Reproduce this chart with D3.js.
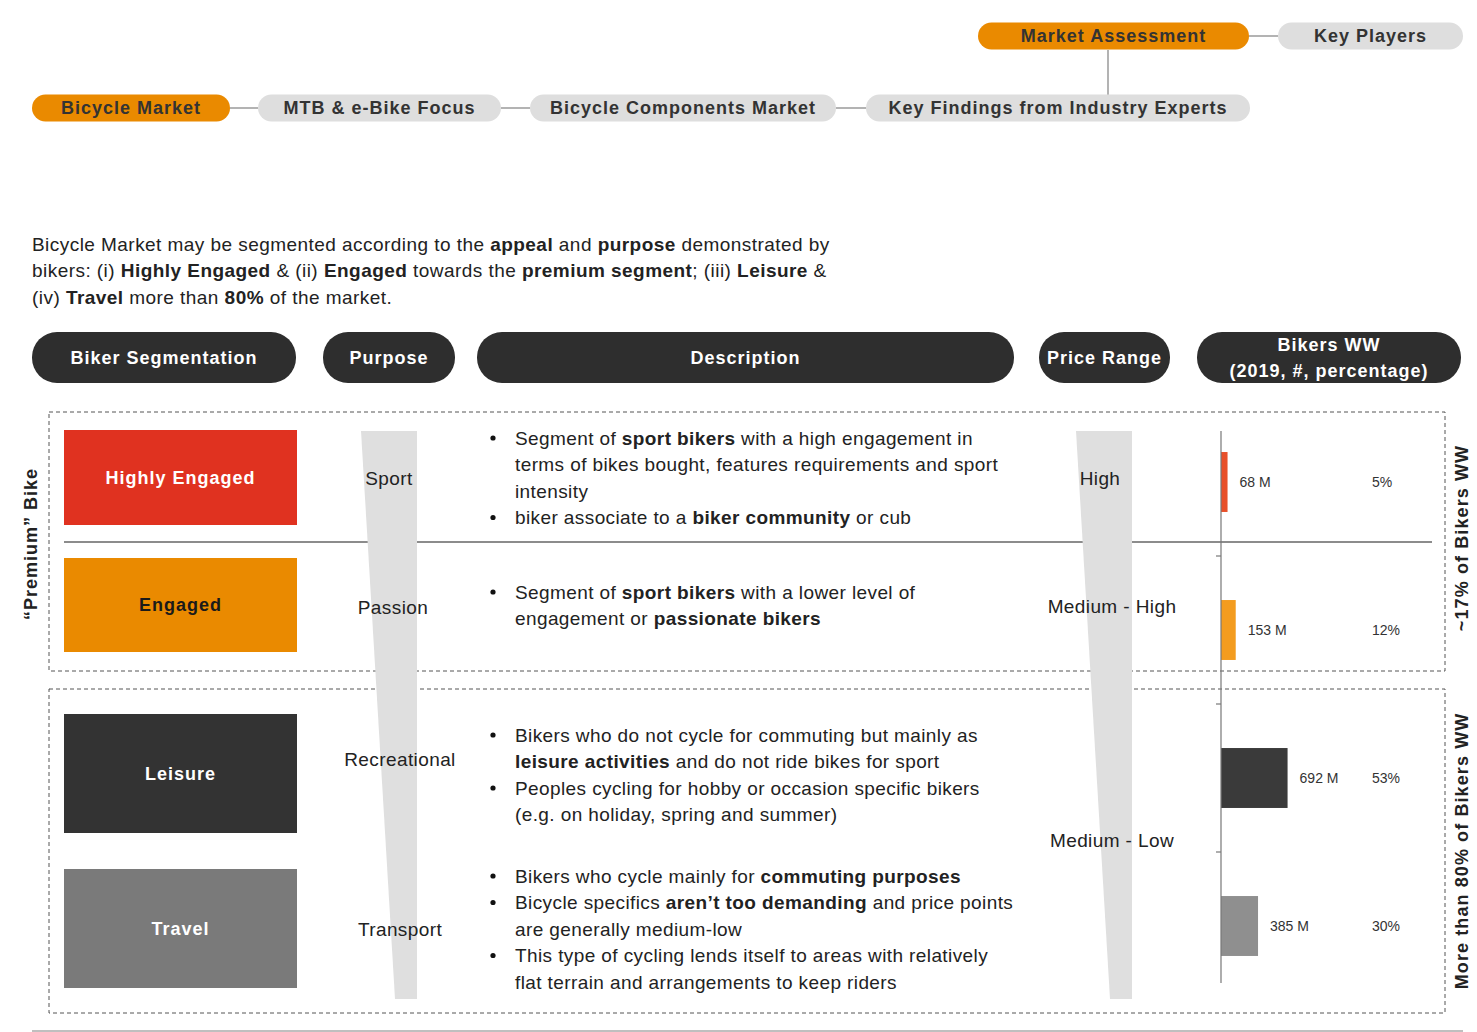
<!DOCTYPE html>
<html><head><meta charset="utf-8">
<script src="https://cdn.jsdelivr.net/npm/d3@7"></script>
<style>
html,body{margin:0;padding:0;background:#fff;}
svg{display:block;}
</style></head>
<body>
<svg id="chart" width="1477" height="1032"></svg>
<script>
// ---------------- DATA ----------------
const navTop = ["Market Assessment", "Key Players"];
const navBottom = ["Bicycle Market", "MTB & e-Bike Focus", "Bicycle Components Market", "Key Findings from Industry Experts"];
const navActive = ["Bicycle Market", "Market Assessment"];
const introLines = [
  "Bicycle Market may be segmented according to the **appeal** and **purpose** demonstrated by",
  "bikers: (i) **Highly Engaged** & (ii) **Engaged** towards the **premium segment**; (iii) **Leisure** &",
  "(iv) **Travel** more than **80%** of the market."
];
const headers = ["Biker Segmentation", "Purpose", "Description", "Price Range", "Bikers WW|(2019, #, percentage)"];
const segments = ["Highly Engaged", "Engaged", "Leisure", "Travel"];
const purposes = ["Sport", "Passion", "Recreational", "Transport"];
const priceRanges = ["High", "Medium - High", "Medium - Low"];
const bikersM = [68, 153, 692, 385];
const bikersPct = [5, 12, 53, 30];
const groupLabels = ["~17% of Bikers WW", "More than 80% of Bikers WW"];
const leftLabel = "“Premium” Bike";
const descriptions = [
  [["Segment of **sport bikers** with a high engagement in", "terms of bikes bought, features requirements and sport", "intensity"],
   ["biker associate to a **biker community** or cub"]],
  [["Segment of **sport bikers** with a lower level of", "engagement or **passionate bikers**"]],
  [["Bikers who do not cycle for commuting but mainly as", "**leisure activities** and do not ride bikes for sport"],
   ["Peoples cycling for hobby or occasion specific bikers", "(e.g. on holiday, spring and summer)"]],
  [["Bikers who cycle mainly for **commuting purposes**"],
   ["Bicycle specifics **aren’t too demanding** and price points", "are generally medium-low"],
   ["This type of cycling lends itself to areas with relatively", "flat terrain and arrangements to keep riders"]]
];

// ---------------- STYLE ----------------
const ORANGE = "#ea8a00", PILL_GREY = "#dedede", DARK = "#2e2e2e";
const segColors = ["#e03220", "#ea8a00", "#333333", "#7a7a7a"];
const segTextColors = ["#ffffff", "#1a1a1a", "#ffffff", "#ffffff"];
const barColors = ["#e8502a", "#f39c1f", "#3a3a3a", "#8f8f8f"];
const FONT = "'Liberation Sans', Arial, Helvetica, sans-serif";

const svg = d3.select("#chart").style("font-family", FONT);

function richText(sel, str, boldWeight) {
  const parts = str.split("**");
  parts.forEach((p, i) => {
    if (!p) return;
    sel.append("tspan").text(p).attr("font-weight", i % 2 ? (boldWeight || "bold") : "normal");
  });
}

// ---------------- NAV ----------------
const navG = svg.append("g");
const navBottomX = [[32, 230], [258, 501], [530, 836], [866, 1250]];
const navTopX = [[978, 1249], [1278, 1463]];
const navLine = "#9a9a9a";
for (let i = 0; i < navBottomX.length - 1; i++) {
  navG.append("line").attr("x1", navBottomX[i][1]).attr("x2", navBottomX[i + 1][0])
    .attr("y1", 108).attr("y2", 108).attr("stroke", navLine).attr("stroke-width", 1.5);
}
navG.append("line").attr("x1", navTopX[0][1]).attr("x2", navTopX[1][0]).attr("y1", 36).attr("y2", 36)
  .attr("stroke", navLine).attr("stroke-width", 1.5);
navG.append("line").attr("x1", 1108).attr("x2", 1108).attr("y1", 50).attr("y2", 95)
  .attr("stroke", navLine).attr("stroke-width", 1.5);

function pill(g, x0, x1, cy, h, label, active) {
  g.append("rect").attr("x", x0).attr("y", cy - h / 2).attr("width", x1 - x0).attr("height", h)
    .attr("rx", h / 2).attr("fill", active ? ORANGE : PILL_GREY);
  g.append("text").attr("x", (x0 + x1) / 2).attr("y", cy).attr("dy", "0.35em")
    .attr("text-anchor", "middle").attr("font-size", 18).attr("font-weight", "bold")
    .attr("letter-spacing", 1.0).attr("fill", "#333").text(label);
}
navBottom.forEach((d, i) => pill(navG, navBottomX[i][0], navBottomX[i][1], 108, 27, d, navActive.includes(d)));
navTop.forEach((d, i) => pill(navG, navTopX[i][0], navTopX[i][1], 36, 27, d, navActive.includes(d)));

// ---------------- INTRO ----------------
introLines.forEach((l, i) => {
  const t = svg.append("text").attr("x", 32).attr("y", 244 + i * 26.5).attr("dy", "0.35em")
    .attr("font-size", 19).attr("letter-spacing", 0.45).attr("fill", "#222");
  richText(t, l);
});

// ---------------- HEADERS ----------------
const headerX = [[32, 296], [323, 455], [477, 1014], [1039, 1170], [1197, 1461]];
headers.forEach((h, i) => {
  const [x0, x1] = headerX[i];
  svg.append("rect").attr("x", x0).attr("y", 332).attr("width", x1 - x0).attr("height", 51)
    .attr("rx", 25).attr("fill", DARK);
  const lines = h.split("|");
  lines.forEach((l, j) => {
    const cy = lines.length === 1 ? 358 : 345 + j * 26;
    svg.append("text").attr("x", (x0 + x1) / 2).attr("y", cy).attr("dy", "0.35em")
      .attr("text-anchor", "middle").attr("font-size", 18).attr("font-weight", "bold")
      .attr("letter-spacing", 1.0).attr("fill", "#fff").text(l);
  });
});

// ---------------- DASHED GROUP BOXES ----------------
const boxes = [[412, 671], [689, 1013]];
boxes.forEach(([y0, y1]) => {
  svg.append("rect").attr("x", 49).attr("y", y0).attr("width", 1445 - 49).attr("height", y1 - y0)
    .attr("fill", "none").attr("stroke", "#555").attr("stroke-width", 1).attr("stroke-dasharray", "4,3");
});
svg.append("line").attr("x1", 32).attr("x2", 1463).attr("y1", 1031).attr("y2", 1031)
  .attr("stroke", "#aaa").attr("stroke-width", 1.5);

svg.append("line").attr("x1", 64).attr("x2", 1432).attr("y1", 542).attr("y2", 542)
  .attr("stroke", "#666").attr("stroke-width", 1.5);

// ---------------- WEDGES ----------------
const wedgeFill = "#dfdfdf";
svg.append("polygon").attr("points", "361,431 417,431 417,999 395,999").attr("fill", wedgeFill);
svg.append("polygon").attr("points", "1076,431 1132,431 1132,999 1110,999").attr("fill", wedgeFill);

// ---------------- SEGMENT BOXES ----------------
const segY = [[430, 525], [558, 652], [714, 833], [869, 988]];
segments.forEach((s, i) => {
  const [y0, y1] = segY[i];
  svg.append("rect").attr("x", 64).attr("y", y0).attr("width", 233).attr("height", y1 - y0).attr("fill", segColors[i]);
  svg.append("text").attr("x", 180.5).attr("y", (y0 + y1) / 2).attr("dy", "0.35em").attr("text-anchor", "middle")
    .attr("font-size", 18).attr("font-weight", "bold").attr("letter-spacing", 1.0)
    .attr("fill", segTextColors[i]).text(s);
});

// ---------------- PURPOSE / PRICE LABELS ----------------
const purposePos = [[389, 478], [393, 607], [400, 759], [400, 929]];
purposes.forEach((p, i) => {
  svg.append("text").attr("x", purposePos[i][0]).attr("y", purposePos[i][1]).attr("dy", "0.35em")
    .attr("text-anchor", "middle").attr("font-size", 19).attr("letter-spacing", 0.4).attr("fill", "#222").text(p);
});
const pricePos = [[1100, 478], [1112, 606], [1112, 840]];
priceRanges.forEach((p, i) => {
  svg.append("text").attr("x", pricePos[i][0]).attr("y", pricePos[i][1]).attr("dy", "0.35em")
    .attr("text-anchor", "middle").attr("font-size", 19).attr("letter-spacing", 0.4).attr("fill", "#222").text(p);
});

// ---------------- DESCRIPTIONS ----------------
const descTop = [438, 592, 735, 876];
const LH = 26.5;
descriptions.forEach((bullets, r) => {
  let yy = descTop[r];
  bullets.forEach(lines => {
    svg.append("circle").attr("cx", 493).attr("cy", yy).attr("r", 2.6).attr("fill", "#111");
    lines.forEach(l => {
      const t = svg.append("text").attr("x", 515).attr("y", yy).attr("dy", "0.35em")
        .attr("font-size", 19).attr("letter-spacing", 0.4).attr("fill", "#222");
      richText(t, l);
      yy += LH;
    });
  });
});

// ---------------- BAR CHART ----------------
const y = d3.scaleBand().domain(segments).range([408, 1000]).paddingInner(0.595).paddingOuter(0.2975);
const x = d3.scaleLinear().domain([0, 1000]).range([1221, 1221 + 96.2]);
const barG = svg.append("g");
barG.selectAll("rect").data(segments).join("rect")
  .attr("x", x(0)).attr("y", d => y(d)).attr("height", y.bandwidth())
  .attr("width", (d, i) => x(bikersM[i]) - x(0)).attr("fill", (d, i) => barColors[i]);
barG.append("line").attr("x1", x(0)).attr("x2", x(0)).attr("y1", 431).attr("y2", 983)
  .attr("stroke", "#777").attr("stroke-width", 1.2);
segments.slice(1).forEach(d => {
  const ty = y(d) - y.step() * y.paddingInner() / 2;
  barG.append("line").attr("x1", x(0) - 5).attr("x2", x(0)).attr("y1", ty).attr("y2", ty)
    .attr("stroke", "#777").attr("stroke-width", 1.2);
});
barG.selectAll("text.val").data(segments).join("text").attr("class", "val")
  .attr("x", (d, i) => x(bikersM[i]) + 12).attr("y", d => y(d) + y.bandwidth() / 2).attr("dy", "0.35em")
  .attr("font-size", 14).attr("fill", "#333").text((d, i) => bikersM[i] + " M");
barG.selectAll("text.pct").data(segments).join("text").attr("class", "pct")
  .attr("x", 1372).attr("y", d => y(d) + y.bandwidth() / 2).attr("dy", "0.35em")
  .attr("font-size", 14).attr("fill", "#333").text((d, i) => bikersPct[i] + "%");

// ---------------- ROTATED LABELS ----------------
svg.append("text").attr("transform", "translate(31,544) rotate(-90)").attr("dy", "0.35em")
  .attr("text-anchor", "middle").attr("font-size", 18).attr("font-weight", "bold").attr("letter-spacing", 1.0)
  .attr("fill", "#222").text(leftLabel);
const groupCY = [538, 851];
groupLabels.forEach((g, i) => {
  svg.append("text").attr("transform", `translate(1462,${groupCY[i]}) rotate(-90)`).attr("dy", "0.35em")
    .attr("text-anchor", "middle").attr("font-size", 18).attr("font-weight", "bold").attr("letter-spacing", 1.1)
    .attr("fill", "#222").text(g);
});
</script>
</body></html>
